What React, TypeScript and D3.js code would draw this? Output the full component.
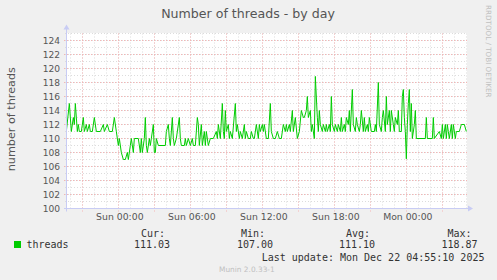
import React from "react";
import * as d3 from "d3";

// Samples: [minutes relative to Sun Dec 21 2025 00:00, threads]
const threadSamples: [number, number][] = [
  [-260,111],[-245,115],[-235,111],[-225,113],[-220,112],[-215,115],[-205,111],[-200,112],[-195,111],[-185,111],
  [-175,113],[-170,111],[-160,112],[-155,111],[-145,112],[-140,111],[-130,111],[-120,113],[-110,111],[-90,111],
  [-75,112],[-70,111],[-55,112],[-45,111],[-30,111],[-20,113],[-10,111],[0,109],[5,110],[15,108],
  [25,107],[35,107],[45,108],[50,107],[60,109],[65,110],[75,108],[80,110],[100,110],[110,108],
  [115,110],[120,108],[130,110],[135,113],[140,109],[145,108],[155,110],[160,109],[165,110],[175,112],
  [180,108],[185,108],[190,110],[200,109],[235,109],[240,111],[250,112],[255,110],[260,109],[270,113],
  [275,110],[280,109],[290,110],[305,113],[310,110],[315,109],[330,109],[335,110],[340,109],[350,110],
  [360,109],[370,110],[375,109],[385,109],[395,113],[400,112],[405,109],[415,112],[420,109],[430,111],
  [435,109],[440,111],[450,109],[460,110],[475,110],[490,111],[495,110],[500,112],[510,110],[520,115],
  [525,111],[530,110],[535,114],[540,111],[550,112],[555,110],[560,111],[570,110],[585,115],[590,111],
  [595,112],[605,110],[610,111],[620,110],[630,112],[635,110],[640,111],[650,110],[660,110],[665,111],
  [675,110],[680,110],[690,112],[700,110],[705,112],[710,111],[720,112],[725,111],[730,112],[740,110],
  [750,110],[760,115],[765,111],[775,110],[785,110],[795,111],[805,110],[815,110],[825,112],[835,111],
  [840,112],[845,111],[855,112],[860,111],[870,114],[875,111],[885,113],[895,110],[905,111],[915,114],
  [925,113],[930,113],[940,114],[945,116],[950,113],[960,114],[965,111],[970,112],[980,110],[985,118.87],
  [995,113],[1000,111],[1005,114],[1010,112],[1020,111],[1025,112],[1035,111],[1040,112],[1045,111],[1055,112],
  [1060,111],[1065,116],[1070,112],[1080,111],[1085,112],[1095,111],[1100,112],[1110,111],[1115,113],[1120,111],
  [1130,112],[1135,111],[1140,113],[1150,112],[1155,114],[1160,111],[1170,117],[1175,112],[1185,111],[1190,113],
  [1195,112],[1205,111],[1210,112],[1215,114],[1225,111],[1230,113],[1235,111],[1245,112],[1250,111],[1255,113],
  [1265,111],[1280,111],[1285,112],[1290,111],[1300,118],[1305,112],[1315,111],[1320,113],[1325,114],[1335,111],
  [1340,116],[1345,112],[1355,114],[1360,111],[1365,114],[1375,112],[1380,111],[1385,113],[1395,112],[1400,114],
  [1405,111],[1415,111],[1420,116],[1425,117],[1430,113],[1435,111],[1440,107.1],[1445,112],[1450,115],[1455,117],
  [1460,111],[1465,115],[1470,110],[1480,112],[1485,114],[1490,110],[1535,110],[1540,113],[1545,110],[1570,110],
  [1575,113],[1580,110],[1605,111],[1615,110],[1620,112],[1625,110],[1635,112],[1640,110],[1645,112],[1650,111],
  [1655,110],[1665,112],[1670,110],[1675,112],[1685,110],[1690,111],[1705,111],[1715,112],[1730,112],[1740,111],
];

const yTickValues = [100,102,104,106,108,110,112,114,116,118,120,122,124];
const legendHeaders = ["Cur:", "Min:", "Avg:", "Max:"];
const legendValues = ["111.03", "107.00", "111.10", "118.87"];
const seriesName = "threads";
const titleText = "Number of threads - by day";
const yLabelText = "number of threads";
const lastUpdateText = "Last update: Mon Dec 22 04:55:10 2025";
const domainMinutes = [-256.67, 1743.33];
const yDomain = [100, 125];

const W = 497, H = 280;
const PL = 67, PR = 467, PT = 33.5, PB = 208.5;
const base = new Date(2025, 11, 21, 0, 0, 0).getTime();
const toDate = (m: number) => new Date(base + m * 60000);

export default function App() {
  const x = d3.scaleTime().domain(domainMinutes.map(toDate)).range([PL, PR]);
  const y = d3.scaleLinear().domain(yDomain).range([PB, PT]);
  const crisp = (v: number) => Math.round(v - 0.5) + 0.5;

  const minorX = x.ticks(d3.timeHour.every(1)!);
  const majorX = x.ticks(d3.timeHour.every(3)!);
  const labelX = x.ticks(d3.timeHour.every(6)!);
  const fmt = d3.timeFormat("%a %H:%M");
  const minorY = d3.range(yDomain[0] + 1, yDomain[1] + 1, 1);

  const line = d3.line<[number, number]>()
    .x(d => x(toDate(d[0])))
    .y(d => y(d[1]));

  const green = "#00cc00";
  const gridRed = "#f7b4b4";
  const gridGray = "#dcdcdc";
  const axisCol = "#c8ccf4";
  const textCol = "#555";
  const mono = "'DejaVu Sans Mono', monospace";
  const sans = "'DejaVu Sans', sans-serif";

  const legendHeaderX = [141, 241, 346, 447.5];
  const legendValueX = [134, 237, 339, 441.5];

  return (
    <svg width={W} height={H} style={{ position: "absolute", left: 0, top: 0 }}
      xmlns="http://www.w3.org/2000/svg">
      <rect x={0} y={0} width={W} height={H} fill="#f0f0f0" />
      <rect x={PL} y={PT - 0.5} width={PR - PL} height={PB - PT + 0.5} fill="#ffffff" />
      <defs>
        <clipPath id="plotclip">
          <rect x={PL} y={PT - 1} width={PR - PL} height={PB - PT + 1} />
        </clipPath>
      </defs>

      {/* minor grid */}
      {minorX.map((d, i) => (
        <line key={"mx" + i} x1={crisp(x(d))} x2={crisp(x(d))} y1={PT} y2={PB + 2}
          stroke={gridGray} strokeWidth={1} strokeDasharray="1,2" />
      ))}
      {minorY.map((v, i) => (
        <line key={"my" + i} x1={PL - 2} x2={PR} y1={y(v)} y2={y(v)}
          stroke={gridGray} strokeWidth={1} strokeDasharray="1,2" />
      ))}
      {/* major grid */}
      {majorX.map((d, i) => (
        <line key={"Mx" + i} x1={crisp(x(d))} x2={crisp(x(d))} y1={PT} y2={PB + 3}
          stroke={gridRed} strokeWidth={1} strokeDasharray="1,2" />
      ))}
      {yTickValues.filter(v => v > yDomain[0]).map((v, i) => (
        <line key={"My" + i} x1={PL - 3} x2={PR} y1={y(v)} y2={y(v)}
          stroke={gridRed} strokeWidth={1} strokeDasharray="1,2" />
      ))}

      {/* axes */}
      <line x1={PL - 3} x2={PR + 1} y1={PB} y2={PB} stroke={axisCol} strokeWidth={1} />
      <path d={`M${PR + 1},${PB - 3} L${PR + 6},${PB} L${PR + 1},${PB + 3} Z`} fill={axisCol} />
      <line x1={PL - 0.5} x2={PL - 0.5} y1={PB + 3} y2={PT - 5} stroke={axisCol} strokeWidth={1} />
      <path d={`M${PL - 3.5},${PT - 4} L${PL - 0.5},${PT - 9} L${PL + 2.5},${PT - 4} Z`} fill={axisCol} />

      {/* data line */}
      <path d={line(threadSamples) || ""} fill="none" stroke={green} strokeWidth={1}
        clipPath="url(#plotclip)" />

      {/* y tick labels */}
      {yTickValues.map((v, i) => (
        <text key={"yl" + i} x={60} y={y(v) + 3.3} textAnchor="end" fontFamily={sans}
          fontSize={9.1} fill={textCol}>{v}</text>
      ))}
      {/* x tick labels */}
      {labelX.map((d, i) => (
        <text key={"xl" + i} x={x(d) + 1.5} y={219.5} textAnchor="middle" fontFamily={sans}
          fontSize={9.3} fill={textCol}>{fmt(d)}</text>
      ))}

      {/* title */}
      <text x={248} y={17.8} textAnchor="middle" fontFamily={sans} fontSize={12.6}
        fill={textCol}>{titleText}</text>
      {/* y label */}
      <text transform={`translate(15,119.2) rotate(-90)`} textAnchor="middle" fontFamily={sans}
        fontSize={11.2} fill={textCol}>{yLabelText}</text>
      {/* rrdtool credit */}
      <text transform={`translate(486,5) rotate(90)`} textAnchor="start" fontFamily={sans}
        fontSize={7.2} fill="#c0c0c0">RRDTOOL / TOBI OETIKER</text>

      {/* legend */}
      <rect x={14} y={241} width={7} height={7} fill={green} />
      <text x={26.5} y={248.3} fontFamily={mono} fontSize={10} fill="#333">{seriesName}</text>
      {legendHeaders.map((t, i) => (
        <text key={"lh" + i} x={legendHeaderX[i]} y={236.7} fontFamily={mono} fontSize={10}
          fill="#333">{t}</text>
      ))}
      {legendValues.map((t, i) => (
        <text key={"lv" + i} x={legendValueX[i]} y={248.3} fontFamily={mono} fontSize={10}
          fill="#333">{t}</text>
      ))}
      <text x={261.7} y={260.7} fontFamily={mono} fontSize={10} fill="#333">{lastUpdateText}</text>
      <text x={219} y={272} fontFamily={sans} fontSize={7.4} fill="#c0c0c0">Munin 2.0.33-1</text>
    </svg>
  );
}
